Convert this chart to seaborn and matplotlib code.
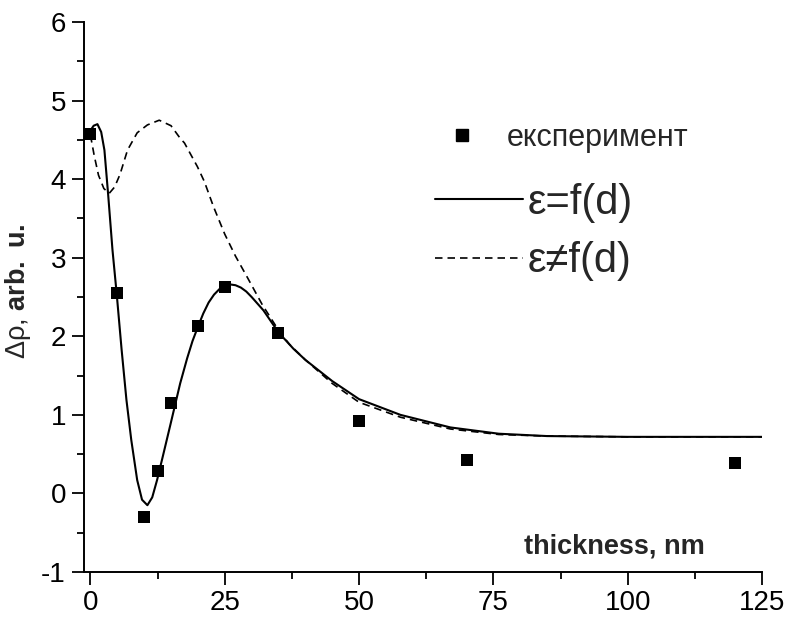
import numpy as np
import pandas as pd
import matplotlib
matplotlib.use("Agg")
import matplotlib.pyplot as plt
import seaborn as sns
from matplotlib.lines import Line2D

# experiment points
exp_x = [0, 5, 10, 12.5, 15, 20, 25, 35, 50, 70, 120]
exp_y = [4.58, 2.55, -0.30, 0.28, 1.15, 2.13, 2.63, 2.04, 0.92, 0.42, 0.39]

# eps = f(d)
fit_x = [0, 0.6, 1.3, 2.0, 2.6, 3.3, 4.1, 4.9, 5.8, 6.7, 7.6, 8.7, 9.6, 10.6,
         11.5, 12.4, 13.5, 14.9, 16.7, 18, 19, 20, 21, 22, 23, 24, 25, 26, 27,
         28, 29, 30, 32.2, 35, 37.8, 40, 45, 50, 57.7, 67, 76, 85, 100, 125]
fit_y = [4.62, 4.68, 4.70, 4.60, 4.37, 3.80, 3.10, 2.53, 1.83, 1.19, 0.68, 0.17,
         -0.08, -0.15, -0.05, 0.17, 0.48, 0.88, 1.40, 1.72, 1.94, 2.12, 2.29,
         2.43, 2.53, 2.60, 2.64, 2.66, 2.65, 2.62, 2.57, 2.50, 2.33, 2.05, 1.84,
         1.70, 1.43, 1.20, 1.00, 0.84, 0.76, 0.73, 0.72, 0.72]

# eps != f(d), dashed curve
const_x = [0, 0.7, 1.5, 2.5, 3.5, 4.5, 5.5, 6.9, 8.7, 10.6, 12.8, 15, 16.7, 17.5,
           19.9, 21.2, 22.9, 25, 27, 29.2, 32, 34.8, 37, 40, 45, 50, 57.7, 67,
           76, 85, 100, 125]
const_y = [4.56, 4.30, 4.05, 3.88, 3.82, 3.90, 4.06, 4.37, 4.59, 4.69, 4.75, 4.68,
           4.52, 4.46, 4.16, 3.97, 3.65, 3.30, 3.02, 2.75, 2.40, 2.10, 1.90, 1.70,
           1.40, 1.16, 0.97, 0.82, 0.75, 0.73, 0.72, 0.72]

sns.set_style("ticks")
plt.rcParams['font.family'] = ['Liberation Sans', 'DejaVu Sans']
plt.rcParams['mathtext.fontset'] = 'custom'
plt.rcParams['mathtext.rm'] = 'Liberation Sans'
plt.rcParams['mathtext.bf'] = 'Liberation Sans:bold'
plt.rcParams['axes.unicode_minus'] = False

fig = plt.figure(figsize=(7.89, 6.2), dpi=100)
ax = fig.add_axes([84/789, 48/620, 678/789, 550/620])

sns.lineplot(x=fit_x, y=fit_y, sort=False, estimator=None, color='black',
             lw=1.5, ax=ax, legend=False)
sns.lineplot(x=const_x, y=const_y, sort=False, estimator=None, color='black',
             lw=1.2, linestyle=(0, (4.5, 3)), ax=ax, legend=False)
sns.scatterplot(x=exp_x, y=exp_y, marker='s', s=64, color='black',
                linewidth=0, ax=ax, legend=False, zorder=3)

ax.set_xlim(-1.2, 125)
ax.set_ylim(-1, 6)
ax.set_xticks([0, 25, 50, 75, 100, 125])
ax.set_xticks([12.5, 37.5, 62.5, 87.5, 112.5], minor=True)
ax.set_yticks(range(-1, 7))
ax.set_yticks(np.arange(-0.5, 6, 1), minor=True)
ax.tick_params(axis='both', which='major', labelsize=20, width=1.3, length=9,
               color='black', labelcolor='black')
ax.tick_params(axis='both', which='minor', width=1.3, length=5, color='black')
ax.tick_params(axis='x', which='major', pad=4)
ax.tick_params(axis='y', which='major', pad=4)
sns.despine(ax=ax)
for s in ['left', 'bottom']:
    ax.spines[s].set_linewidth(1.4)
    ax.spines[s].set_color('black')

ax.set_xlabel('thickness, nm', fontsize=19.5, fontweight='bold')
ax.xaxis.label.set_va('center')
ax.xaxis.set_label_coords(0.783, 0.046)
ax.set_ylabel(r'Δρ, $\mathbf{arb.}$ $\mathbf{u.}$', fontsize=19.5)
ax.yaxis.set_label_coords(-0.075, 0.51)

# legend: experiment entry
h1 = Line2D([], [], marker='s', markersize=8, color='black', linestyle='none')
leg1 = ax.legend([h1], ['експеримент'], loc='center left',
                 bbox_to_anchor=(450/789, 1 - 138/620),
                 bbox_transform=fig.transFigure, frameon=False, fontsize=22,
                 borderpad=0, borderaxespad=0, handlelength=0.8,
                 handletextpad=1.05)
ax.add_artist(leg1)

# legend: model curves
h2 = Line2D([], [], color='black', lw=1.5)
h3 = Line2D([], [], color='black', lw=1.2, linestyle=(0, (4.5, 3)))
leg2 = ax.legend([h2, h3], ['ε=f(d)', 'ε≠f(d)'], loc='center left',
                 bbox_to_anchor=(435/789, 1 - 232/620),
                 bbox_transform=fig.transFigure, frameon=False, fontsize=30,
                 borderpad=0, borderaxespad=0, handlelength=2.1,
                 handletextpad=0.12, labelspacing=0.45)

fig.savefig('out.png', dpi=100)
